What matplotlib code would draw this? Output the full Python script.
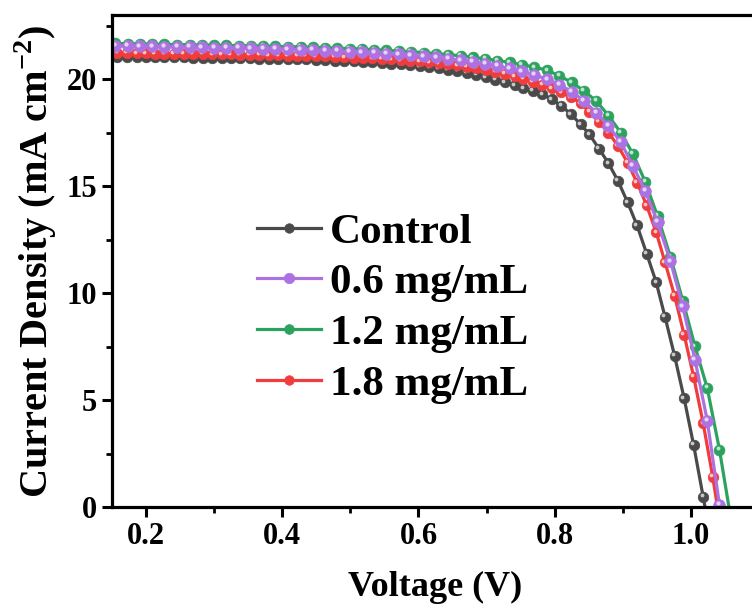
import matplotlib
matplotlib.use("Agg")
import matplotlib.pyplot as plt
from matplotlib.ticker import MultipleLocator
import matplotlib.transforms as mtransforms

plt.rcParams['font.family'] = ['Liberation Serif', 'DejaVu Serif']
plt.rcParams['font.weight'] = 'bold'
plt.rcParams['mathtext.fontset'] = 'custom'
plt.rcParams['mathtext.rm'] = 'Liberation Serif:bold'
plt.rcParams['mathtext.bf'] = 'Liberation Serif:bold'

# ---- data ----
labels = ["Control", "0.6 mg/mL", "1.2 mg/mL", "1.8 mg/mL"]

# fine voltage grid used by Control and 1.8 mg/mL
v_fine = [0.158, 0.172, 0.186, 0.200, 0.213, 0.227, 0.241, 0.255, 0.269, 0.283,
          0.297, 0.311, 0.324, 0.338, 0.352, 0.366, 0.380, 0.394, 0.408, 0.422,
          0.435, 0.449, 0.463, 0.477, 0.491, 0.505, 0.519, 0.532, 0.546, 0.560,
          0.574, 0.588, 0.602, 0.616, 0.630, 0.643, 0.657, 0.671, 0.685, 0.699,
          0.713, 0.727, 0.741, 0.754, 0.768, 0.782, 0.796, 0.810, 0.824, 0.838,
          0.851, 0.865, 0.879, 0.893, 0.907, 0.921, 0.935, 0.949, 0.962, 0.976,
          0.990, 1.004, 1.018, 1.032, 1.046]

# coarse voltage grid used by 0.6 and 1.2 mg/mL
v_coarse = [0.155, 0.173, 0.191, 0.209, 0.227, 0.246, 0.264, 0.282, 0.300, 0.318,
            0.336, 0.354, 0.372, 0.390, 0.408, 0.427, 0.445, 0.463, 0.481, 0.499,
            0.517, 0.535, 0.553, 0.571, 0.589, 0.608, 0.626, 0.644, 0.662, 0.680,
            0.698, 0.716, 0.734, 0.752, 0.770, 0.789, 0.807, 0.825, 0.843, 0.861,
            0.879, 0.897, 0.915, 0.933, 0.951, 0.970, 0.988, 1.006, 1.024, 1.042,
            1.060]

j_control = [21.05, 21.05, 21.04, 21.04, 21.03, 21.03, 21.02, 21.02, 21.01, 21.01,
             21.00, 20.99, 20.99, 20.98, 20.97, 20.96, 20.96, 20.95, 20.94, 20.93,
             20.92, 20.90, 20.89, 20.87, 20.85, 20.83, 20.81, 20.79, 20.76, 20.73,
             20.69, 20.65, 20.61, 20.56, 20.51, 20.45, 20.38, 20.30, 20.20, 20.09,
             19.96, 19.85, 19.72, 19.58, 19.45, 19.30, 19.05, 18.75, 18.36, 17.89,
             17.42, 16.75, 16.07, 15.24, 14.25, 13.16, 11.85, 10.51, 8.89, 7.07,
             5.09, 2.90, 0.48, -2.0]

j_red = [21.22, 21.22, 21.21, 21.21, 21.20, 21.20, 21.19, 21.19, 21.18, 21.18,
         21.17, 21.16, 21.16, 21.15, 21.14, 21.13, 21.12, 21.11, 21.10, 21.09,
         21.08, 21.07, 21.06, 21.04, 21.03, 21.01, 20.99, 20.97, 20.95, 20.92,
         20.89, 20.86, 20.83, 20.79, 20.75, 20.70, 20.65, 20.59, 20.52, 20.44,
         20.35, 20.25, 20.14, 20.02, 19.88, 19.75, 19.57, 19.38, 19.16, 18.88,
         18.47, 18.00, 17.50, 16.88, 16.10, 15.16, 14.10, 12.85, 11.44, 9.88,
         8.06, 6.10, 3.92, 1.42, -1.4]

j_purple = [21.56, 21.55, 21.54, 21.53, 21.52, 21.51, 21.50, 21.49, 21.48, 21.47,
            21.46, 21.45, 21.43, 21.42, 21.40, 21.38, 21.36, 21.34, 21.32, 21.29,
            21.26, 21.23, 21.20, 21.16, 21.12, 21.07, 21.02, 20.96, 20.89, 20.81,
            20.72, 20.62, 20.50, 20.37, 20.20, 20.00, 19.75, 19.42, 18.98, 18.44,
            17.81, 17.06, 15.94, 14.77, 13.32, 11.49, 9.38, 6.89, 4.04, 0.09,
            -3.5]

j_green = [21.67, 21.66, 21.65, 21.64, 21.63, 21.62, 21.61, 21.60, 21.59, 21.58,
           21.57, 21.56, 21.55, 21.54, 21.52, 21.51, 21.49, 21.47, 21.45, 21.43,
           21.41, 21.38, 21.35, 21.32, 21.28, 21.24, 21.19, 21.15, 21.09, 21.02,
           20.95, 20.87, 20.78, 20.68, 20.56, 20.42, 20.15, 19.85, 19.45, 18.98,
           18.30, 17.50, 16.50, 15.20, 13.60, 11.70, 9.65, 7.51, 5.56, 2.67,
           -0.8]

x_ticks = [0.2, 0.4, 0.6, 0.8, 1.0]
y_ticks = [0, 5, 10, 15, 20]

# ---- styles ----
colors = {"Control": "#4a4a4a", "0.6 mg/mL": "#ad72e2",
          "1.2 mg/mL": "#2ba35e", "1.8 mg/mL": "#f03c3c"}

fig = plt.figure(figsize=(7.52, 6.10), dpi=100)
ax = fig.add_axes([112/752, 103/610, (759-112)/752, 492/610])

series = [
    ("Control", v_fine[:len(j_control)], j_control, 7.6),
    ("1.2 mg/mL", v_coarse, j_green, 7.8),
    ("1.8 mg/mL", v_fine[:len(j_red)], j_red, 7.6),
    ("0.6 mg/mL", v_coarse, j_purple, 8.4),
]

offset = mtransforms.ScaledTranslation(-1.6/100, 1.6/100, fig.dpi_scale_trans)
handles = {}
for i, (name, v, j, ms) in enumerate(series):
    c = colors[name]
    ln, = ax.plot(v, j, '-', color=c, lw=2.3, marker='o', ms=ms,
                  mfc=c, mec=c, mew=0.5, zorder=2 + i * 0.1)
    ax.plot(v, j, ls='none', marker='o', ms=ms * 0.36, mfc='white',
            mec='none', alpha=0.7, zorder=2.05 + i * 0.1,
            transform=ax.transData + offset)
    handles[name] = ln

ax.set_xlim(0.15, 1.1)
ax.set_ylim(0, 23)
ax.set_xticks(x_ticks)
ax.set_yticks(y_ticks)
ax.xaxis.set_minor_locator(MultipleLocator(0.1))
ax.yaxis.set_minor_locator(MultipleLocator(2.5))
ax.set_xticklabels([f"{t:.1f}" for t in x_ticks])
ax.set_yticklabels([str(t) for t in y_ticks])

for s in ax.spines.values():
    s.set_linewidth(2.3)
ax.tick_params(which='major', direction='out', length=7, width=2.2,
               labelsize=22, pad=4)
ax.tick_params(which='minor', direction='out', length=4.5, width=2.0)
ax.tick_params(top=False, right=False, which='both')
for lab in ax.get_xticklabels() + ax.get_yticklabels():
    lab.set_fontweight('bold')

ax.set_xlabel("Voltage (V)", fontsize=26, fontweight='bold', labelpad=14)
ax.set_ylabel(r"Current Density (mA cm$^{\mathbf{-2}}$)", fontsize=29,
              fontweight='bold', labelpad=5)

order = ["Control", "0.6 mg/mL", "1.2 mg/mL", "1.8 mg/mL"]
leg = ax.legend([handles[n] for n in order], order, numpoints=1,
                loc='center left', bbox_to_anchor=(0.224, 0.404),
                frameon=False, handlelength=1.48, markerscale=0.9,
                handletextpad=0.22, labelspacing=0.27, borderaxespad=0,
                borderpad=0, prop={'weight': 'bold', 'size': 31})

fig.savefig("out.png", dpi=100)
